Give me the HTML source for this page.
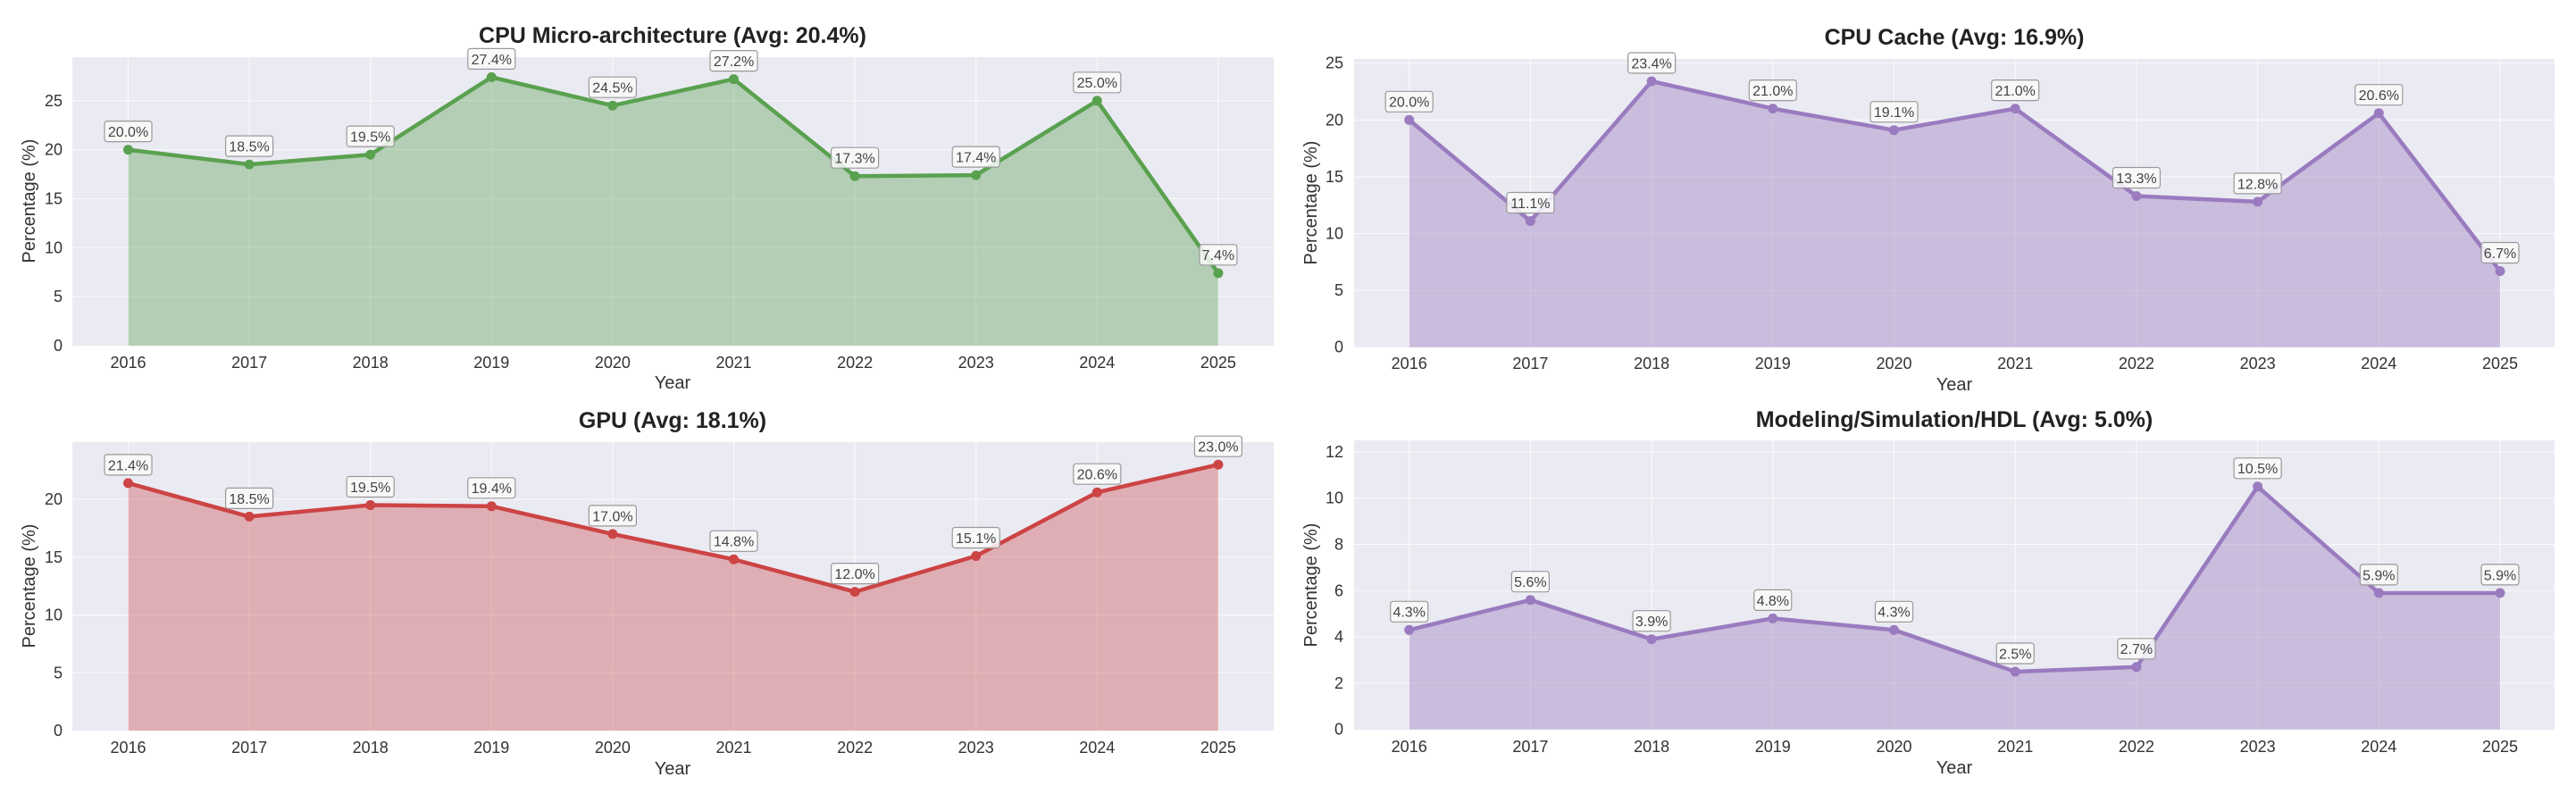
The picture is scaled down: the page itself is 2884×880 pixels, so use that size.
<!DOCTYPE html>
<html><head><meta charset="utf-8"><style>
body{margin:0;background:#fff;}
svg{display:block;font-family:"Liberation Sans",sans-serif;}
.t{font-size:25px;font-weight:bold;fill:#222;text-anchor:middle}
.tk{font-size:18px;fill:#333}
.xl{text-anchor:middle}
.yl{text-anchor:end}
.al{font-size:20px;fill:#333;text-anchor:middle}
.bx{fill:#fafafa;fill-opacity:0.85;stroke:#999;stroke-width:1.2}
.lb{font-size:16px;fill:#444;text-anchor:middle}
.g{stroke:#fff;stroke-width:1;stroke-opacity:0.8}
</style></head><body>
<svg width="2884" height="880" viewBox="0 0 2884 880">
<!-- Panel 1 -->
<rect x="81" y="64" width="1345" height="323" fill="#eaeaf2"/>
<g class="g">
<line x1="81" x2="1426" y1="332.2" y2="332.2"/><line x1="81" x2="1426" y1="277.3" y2="277.3"/><line x1="81" x2="1426" y1="222.5" y2="222.5"/><line x1="81" x2="1426" y1="167.6" y2="167.6"/><line x1="81" x2="1426" y1="112.8" y2="112.8"/>
<line x1="143.5" x2="143.5" y1="64" y2="387"/><line x1="279.1" x2="279.1" y1="64" y2="387"/><line x1="414.7" x2="414.7" y1="64" y2="387"/><line x1="550.3" x2="550.3" y1="64" y2="387"/><line x1="685.9" x2="685.9" y1="64" y2="387"/><line x1="821.5" x2="821.5" y1="64" y2="387"/><line x1="957.1" x2="957.1" y1="64" y2="387"/><line x1="1092.7" x2="1092.7" y1="64" y2="387"/><line x1="1228.3" x2="1228.3" y1="64" y2="387"/><line x1="1363.9" x2="1363.9" y1="64" y2="387"/>
</g>
<polygon fill="#59a14f" fill-opacity="0.38" points="143.5,387 143.5,167.6 279.1,184.1 414.7,173.1 550.3,86.4 685.9,118.2 821.5,88.6 957.1,197.2 1092.7,196.1 1228.3,112.8 1363.9,305.8 1363.9,387"/>
<polyline fill="none" stroke="#59a14f" stroke-width="4.5" stroke-linejoin="round" points="143.5,167.6 279.1,184.1 414.7,173.1 550.3,86.4 685.9,118.2 821.5,88.6 957.1,197.2 1092.7,196.1 1228.3,112.8 1363.9,305.8"/>
<g fill="#59a14f"><circle cx="143.5" cy="167.6" r="5.5"/><circle cx="279.1" cy="184.1" r="5.5"/><circle cx="414.7" cy="173.1" r="5.5"/><circle cx="550.3" cy="86.4" r="5.5"/><circle cx="685.9" cy="118.2" r="5.5"/><circle cx="821.5" cy="88.6" r="5.5"/><circle cx="957.1" cy="197.2" r="5.5"/><circle cx="1092.7" cy="196.1" r="5.5"/><circle cx="1228.3" cy="112.8" r="5.5"/><circle cx="1363.9" cy="305.8" r="5.5"/></g>
<g>
<rect class="bx" x="117" y="135.6" width="53" height="23" rx="3"/><text class="lb" x="143.5" y="153">20.0%</text>
<rect class="bx" x="252.6" y="152.1" width="53" height="23" rx="3"/><text class="lb" x="279.1" y="169.5">18.5%</text>
<rect class="bx" x="388.2" y="141.1" width="53" height="23" rx="3"/><text class="lb" x="414.7" y="158.5">19.5%</text>
<rect class="bx" x="523.8" y="54.4" width="53" height="23" rx="3"/><text class="lb" x="550.3" y="71.8">27.4%</text>
<rect class="bx" x="659.4" y="86.2" width="53" height="23" rx="3"/><text class="lb" x="685.9" y="103.6">24.5%</text>
<rect class="bx" x="795" y="56.6" width="53" height="23" rx="3"/><text class="lb" x="821.5" y="74">27.2%</text>
<rect class="bx" x="930.6" y="165.2" width="53" height="23" rx="3"/><text class="lb" x="957.1" y="182.6">17.3%</text>
<rect class="bx" x="1066.2" y="164.1" width="53" height="23" rx="3"/><text class="lb" x="1092.7" y="181.5">17.4%</text>
<rect class="bx" x="1201.8" y="80.8" width="53" height="23" rx="3"/><text class="lb" x="1228.3" y="98.2">25.0%</text>
<rect class="bx" x="1342.9" y="273.8" width="42" height="23" rx="3"/><text class="lb" x="1363.9" y="291.2">7.4%</text>
</g>
<g class="tk yl"><text x="70" y="393">0</text><text x="70" y="338.2">5</text><text x="70" y="283.3">10</text><text x="70" y="228.5">15</text><text x="70" y="173.6">20</text><text x="70" y="118.8">25</text></g>
<g class="tk xl"><text x="143.5" y="412">2016</text><text x="279.1" y="412">2017</text><text x="414.7" y="412">2018</text><text x="550.3" y="412">2019</text><text x="685.9" y="412">2020</text><text x="821.5" y="412">2021</text><text x="957.1" y="412">2022</text><text x="1092.7" y="412">2023</text><text x="1228.3" y="412">2024</text><text x="1363.9" y="412">2025</text></g>
<text class="al" x="753" y="435">Year</text>
<text class="al" transform="translate(39,225) rotate(-90)">Percentage (%)</text>
<text class="t" x="753" y="48">CPU Micro-architecture (Avg: 20.4%)</text>

<!-- Panel 2 -->
<rect x="1516" y="66" width="1344" height="322.7" fill="#eaeaf2"/>
<g class="g">
<line x1="1516" x2="2860" y1="325.1" y2="325.1"/><line x1="1516" x2="2860" y1="261.5" y2="261.5"/><line x1="1516" x2="2860" y1="197.9" y2="197.9"/><line x1="1516" x2="2860" y1="134.3" y2="134.3"/><line x1="1516" x2="2860" y1="70.7" y2="70.7"/>
<line x1="1577.7" x2="1577.7" y1="66" y2="388"/><line x1="1713.4" x2="1713.4" y1="66" y2="388"/><line x1="1849.1" x2="1849.1" y1="66" y2="388"/><line x1="1984.8" x2="1984.8" y1="66" y2="388"/><line x1="2120.5" x2="2120.5" y1="66" y2="388"/><line x1="2256.2" x2="2256.2" y1="66" y2="388"/><line x1="2391.9" x2="2391.9" y1="66" y2="388"/><line x1="2527.6" x2="2527.6" y1="66" y2="388"/><line x1="2663.3" x2="2663.3" y1="66" y2="388"/><line x1="2799" x2="2799" y1="66" y2="388"/>
</g>
<polygon fill="#9a7bbf" fill-opacity="0.42" points="1577.7,388.7 1577.7,134.3 1713.4,247.5 1849.1,91 1984.8,121.6 2120.5,145.7 2256.2,121.6 2391.9,219.5 2527.6,225.9 2663.3,126.7 2799,303.5 2799,388.7"/>
<polyline fill="none" stroke="#9a7bbf" stroke-width="4.5" stroke-linejoin="round" points="1577.7,134.3 1713.4,247.5 1849.1,91 1984.8,121.6 2120.5,145.7 2256.2,121.6 2391.9,219.5 2527.6,225.9 2663.3,126.7 2799,303.5"/>
<g fill="#9a7bbf"><circle cx="1577.7" cy="134.3" r="5.5"/><circle cx="1713.4" cy="247.5" r="5.5"/><circle cx="1849.1" cy="91" r="5.5"/><circle cx="1984.8" cy="121.6" r="5.5"/><circle cx="2120.5" cy="145.7" r="5.5"/><circle cx="2256.2" cy="121.6" r="5.5"/><circle cx="2391.9" cy="219.5" r="5.5"/><circle cx="2527.6" cy="225.9" r="5.5"/><circle cx="2663.3" cy="126.7" r="5.5"/><circle cx="2799" cy="303.5" r="5.5"/></g>
<g>
<rect class="bx" x="1551.2" y="102.3" width="53" height="23" rx="3"/><text class="lb" x="1577.7" y="119.7">20.0%</text>
<rect class="bx" x="1686.9" y="215.5" width="53" height="23" rx="3"/><text class="lb" x="1713.4" y="232.9">11.1%</text>
<rect class="bx" x="1822.6" y="59" width="53" height="23" rx="3"/><text class="lb" x="1849.1" y="76.4">23.4%</text>
<rect class="bx" x="1958.3" y="89.6" width="53" height="23" rx="3"/><text class="lb" x="1984.8" y="107">21.0%</text>
<rect class="bx" x="2094" y="113.7" width="53" height="23" rx="3"/><text class="lb" x="2120.5" y="131.1">19.1%</text>
<rect class="bx" x="2229.7" y="89.6" width="53" height="23" rx="3"/><text class="lb" x="2256.2" y="107">21.0%</text>
<rect class="bx" x="2365.4" y="187.5" width="53" height="23" rx="3"/><text class="lb" x="2391.9" y="204.9">13.3%</text>
<rect class="bx" x="2501.1" y="193.9" width="53" height="23" rx="3"/><text class="lb" x="2527.6" y="211.3">12.8%</text>
<rect class="bx" x="2636.8" y="94.7" width="53" height="23" rx="3"/><text class="lb" x="2663.3" y="112.1">20.6%</text>
<rect class="bx" x="2778" y="271.5" width="42" height="23" rx="3"/><text class="lb" x="2799" y="288.9">6.7%</text>
</g>
<g class="tk yl"><text x="1504" y="394.7">0</text><text x="1504" y="331.1">5</text><text x="1504" y="267.5">10</text><text x="1504" y="203.9">15</text><text x="1504" y="140.3">20</text><text x="1504" y="76.7">25</text></g>
<g class="tk xl"><text x="1577.7" y="413">2016</text><text x="1713.4" y="413">2017</text><text x="1849.1" y="413">2018</text><text x="1984.8" y="413">2019</text><text x="2120.5" y="413">2020</text><text x="2256.2" y="413">2021</text><text x="2391.9" y="413">2022</text><text x="2527.6" y="413">2023</text><text x="2663.3" y="413">2024</text><text x="2799" y="413">2025</text></g>
<text class="al" x="2188" y="437">Year</text>
<text class="al" transform="translate(1474,227) rotate(-90)">Percentage (%)</text>
<text class="t" x="2188" y="50">CPU Cache (Avg: 16.9%)</text>

<!-- Panel 3 -->
<rect x="81" y="495" width="1345" height="323" fill="#eaeaf2"/>
<g class="g">
<line x1="81" x2="1426" y1="753.3" y2="753.3"/><line x1="81" x2="1426" y1="688.5" y2="688.5"/><line x1="81" x2="1426" y1="623.8" y2="623.8"/><line x1="81" x2="1426" y1="559" y2="559"/>
<line x1="143.5" x2="143.5" y1="495" y2="818"/><line x1="279.1" x2="279.1" y1="495" y2="818"/><line x1="414.7" x2="414.7" y1="495" y2="818"/><line x1="550.3" x2="550.3" y1="495" y2="818"/><line x1="685.9" x2="685.9" y1="495" y2="818"/><line x1="821.5" x2="821.5" y1="495" y2="818"/><line x1="957.1" x2="957.1" y1="495" y2="818"/><line x1="1092.7" x2="1092.7" y1="495" y2="818"/><line x1="1228.3" x2="1228.3" y1="495" y2="818"/><line x1="1363.9" x2="1363.9" y1="495" y2="818"/>
</g>
<polygon fill="#cc4444" fill-opacity="0.36" points="143.5,818 143.5,540.9 279.1,578.4 414.7,565.5 550.3,566.8 685.9,597.9 821.5,626.3 957.1,662.6 1092.7,622.5 1228.3,551.2 1363.9,520.2 1363.9,818"/>
<polyline fill="none" stroke="#cc4444" stroke-width="4.5" stroke-linejoin="round" points="143.5,540.9 279.1,578.4 414.7,565.5 550.3,566.8 685.9,597.9 821.5,626.3 957.1,662.6 1092.7,622.5 1228.3,551.2 1363.9,520.2"/>
<g fill="#cc4444"><circle cx="143.5" cy="540.9" r="5.5"/><circle cx="279.1" cy="578.4" r="5.5"/><circle cx="414.7" cy="565.5" r="5.5"/><circle cx="550.3" cy="566.8" r="5.5"/><circle cx="685.9" cy="597.9" r="5.5"/><circle cx="821.5" cy="626.3" r="5.5"/><circle cx="957.1" cy="662.6" r="5.5"/><circle cx="1092.7" cy="622.5" r="5.5"/><circle cx="1228.3" cy="551.2" r="5.5"/><circle cx="1363.9" cy="520.2" r="5.5"/></g>
<g>
<rect class="bx" x="117" y="508.9" width="53" height="23" rx="3"/><text class="lb" x="143.5" y="526.3">21.4%</text>
<rect class="bx" x="252.6" y="546.4" width="53" height="23" rx="3"/><text class="lb" x="279.1" y="563.8">18.5%</text>
<rect class="bx" x="388.2" y="533.5" width="53" height="23" rx="3"/><text class="lb" x="414.7" y="550.9">19.5%</text>
<rect class="bx" x="523.8" y="534.8" width="53" height="23" rx="3"/><text class="lb" x="550.3" y="552.2">19.4%</text>
<rect class="bx" x="659.4" y="565.9" width="53" height="23" rx="3"/><text class="lb" x="685.9" y="583.3">17.0%</text>
<rect class="bx" x="795" y="594.3" width="53" height="23" rx="3"/><text class="lb" x="821.5" y="611.7">14.8%</text>
<rect class="bx" x="930.6" y="630.6" width="53" height="23" rx="3"/><text class="lb" x="957.1" y="648">12.0%</text>
<rect class="bx" x="1066.2" y="590.5" width="53" height="23" rx="3"/><text class="lb" x="1092.7" y="607.9">15.1%</text>
<rect class="bx" x="1201.8" y="519.2" width="53" height="23" rx="3"/><text class="lb" x="1228.3" y="536.6">20.6%</text>
<rect class="bx" x="1337.4" y="488.2" width="53" height="23" rx="3"/><text class="lb" x="1363.9" y="505.6">23.0%</text>
</g>
<g class="tk yl"><text x="70" y="824">0</text><text x="70" y="759.3">5</text><text x="70" y="694.5">10</text><text x="70" y="629.8">15</text><text x="70" y="565">20</text></g>
<g class="tk xl"><text x="143.5" y="843">2016</text><text x="279.1" y="843">2017</text><text x="414.7" y="843">2018</text><text x="550.3" y="843">2019</text><text x="685.9" y="843">2020</text><text x="821.5" y="843">2021</text><text x="957.1" y="843">2022</text><text x="1092.7" y="843">2023</text><text x="1228.3" y="843">2024</text><text x="1363.9" y="843">2025</text></g>
<text class="al" x="753" y="867">Year</text>
<text class="al" transform="translate(39,656) rotate(-90)">Percentage (%)</text>
<text class="t" x="753" y="479">GPU (Avg: 18.1%)</text>

<!-- Panel 4 -->
<rect x="1516" y="493" width="1344" height="324" fill="#eaeaf2"/>
<g class="g">
<line x1="1516" x2="2860" y1="764.9" y2="764.9"/><line x1="1516" x2="2860" y1="713.1" y2="713.1"/><line x1="1516" x2="2860" y1="661.3" y2="661.3"/><line x1="1516" x2="2860" y1="609.5" y2="609.5"/><line x1="1516" x2="2860" y1="557.7" y2="557.7"/><line x1="1516" x2="2860" y1="505.9" y2="505.9"/>
<line x1="1577.7" x2="1577.7" y1="493" y2="817"/><line x1="1713.4" x2="1713.4" y1="493" y2="817"/><line x1="1849.1" x2="1849.1" y1="493" y2="817"/><line x1="1984.8" x2="1984.8" y1="493" y2="817"/><line x1="2120.5" x2="2120.5" y1="493" y2="817"/><line x1="2256.2" x2="2256.2" y1="493" y2="817"/><line x1="2391.9" x2="2391.9" y1="493" y2="817"/><line x1="2527.6" x2="2527.6" y1="493" y2="817"/><line x1="2663.3" x2="2663.3" y1="493" y2="817"/><line x1="2799" x2="2799" y1="493" y2="817"/>
</g>
<polygon fill="#9a7bbf" fill-opacity="0.42" points="1577.7,816.7 1577.7,705.3 1713.4,671.7 1849.1,715.7 1984.8,692.4 2120.5,705.3 2256.2,752 2391.9,746.8 2527.6,544.8 2663.3,663.9 2799,663.9 2799,816.7"/>
<polyline fill="none" stroke="#9a7bbf" stroke-width="4.5" stroke-linejoin="round" points="1577.7,705.3 1713.4,671.7 1849.1,715.7 1984.8,692.4 2120.5,705.3 2256.2,752 2391.9,746.8 2527.6,544.8 2663.3,663.9 2799,663.9"/>
<g fill="#9a7bbf"><circle cx="1577.7" cy="705.3" r="5.5"/><circle cx="1713.4" cy="671.7" r="5.5"/><circle cx="1849.1" cy="715.7" r="5.5"/><circle cx="1984.8" cy="692.4" r="5.5"/><circle cx="2120.5" cy="705.3" r="5.5"/><circle cx="2256.2" cy="752" r="5.5"/><circle cx="2391.9" cy="746.8" r="5.5"/><circle cx="2527.6" cy="544.8" r="5.5"/><circle cx="2663.3" cy="663.9" r="5.5"/><circle cx="2799" cy="663.9" r="5.5"/></g>
<g>
<rect class="bx" x="1556.7" y="673.3" width="42" height="23" rx="3"/><text class="lb" x="1577.7" y="690.7">4.3%</text>
<rect class="bx" x="1692.4" y="639.7" width="42" height="23" rx="3"/><text class="lb" x="1713.4" y="657.1">5.6%</text>
<rect class="bx" x="1828.1" y="683.7" width="42" height="23" rx="3"/><text class="lb" x="1849.1" y="701.1">3.9%</text>
<rect class="bx" x="1963.8" y="660.4" width="42" height="23" rx="3"/><text class="lb" x="1984.8" y="677.8">4.8%</text>
<rect class="bx" x="2099.5" y="673.3" width="42" height="23" rx="3"/><text class="lb" x="2120.5" y="690.7">4.3%</text>
<rect class="bx" x="2235.2" y="720" width="42" height="23" rx="3"/><text class="lb" x="2256.2" y="737.4">2.5%</text>
<rect class="bx" x="2370.9" y="714.8" width="42" height="23" rx="3"/><text class="lb" x="2391.9" y="732.2">2.7%</text>
<rect class="bx" x="2501.1" y="512.8" width="53" height="23" rx="3"/><text class="lb" x="2527.6" y="530.2">10.5%</text>
<rect class="bx" x="2642.3" y="631.9" width="42" height="23" rx="3"/><text class="lb" x="2663.3" y="649.3">5.9%</text>
<rect class="bx" x="2778" y="631.9" width="42" height="23" rx="3"/><text class="lb" x="2799" y="649.3">5.9%</text>
</g>
<g class="tk yl"><text x="1504" y="822.7">0</text><text x="1504" y="770.9">2</text><text x="1504" y="719.1">4</text><text x="1504" y="667.3">6</text><text x="1504" y="615.5">8</text><text x="1504" y="563.7">10</text><text x="1504" y="511.9">12</text></g>
<g class="tk xl"><text x="1577.7" y="842">2016</text><text x="1713.4" y="842">2017</text><text x="1849.1" y="842">2018</text><text x="1984.8" y="842">2019</text><text x="2120.5" y="842">2020</text><text x="2256.2" y="842">2021</text><text x="2391.9" y="842">2022</text><text x="2527.6" y="842">2023</text><text x="2663.3" y="842">2024</text><text x="2799" y="842">2025</text></g>
<text class="al" x="2188" y="866">Year</text>
<text class="al" transform="translate(1474,655) rotate(-90)">Percentage (%)</text>
<text class="t" x="2188" y="478">Modeling/Simulation/HDL (Avg: 5.0%)</text>
</svg>
</body></html>
